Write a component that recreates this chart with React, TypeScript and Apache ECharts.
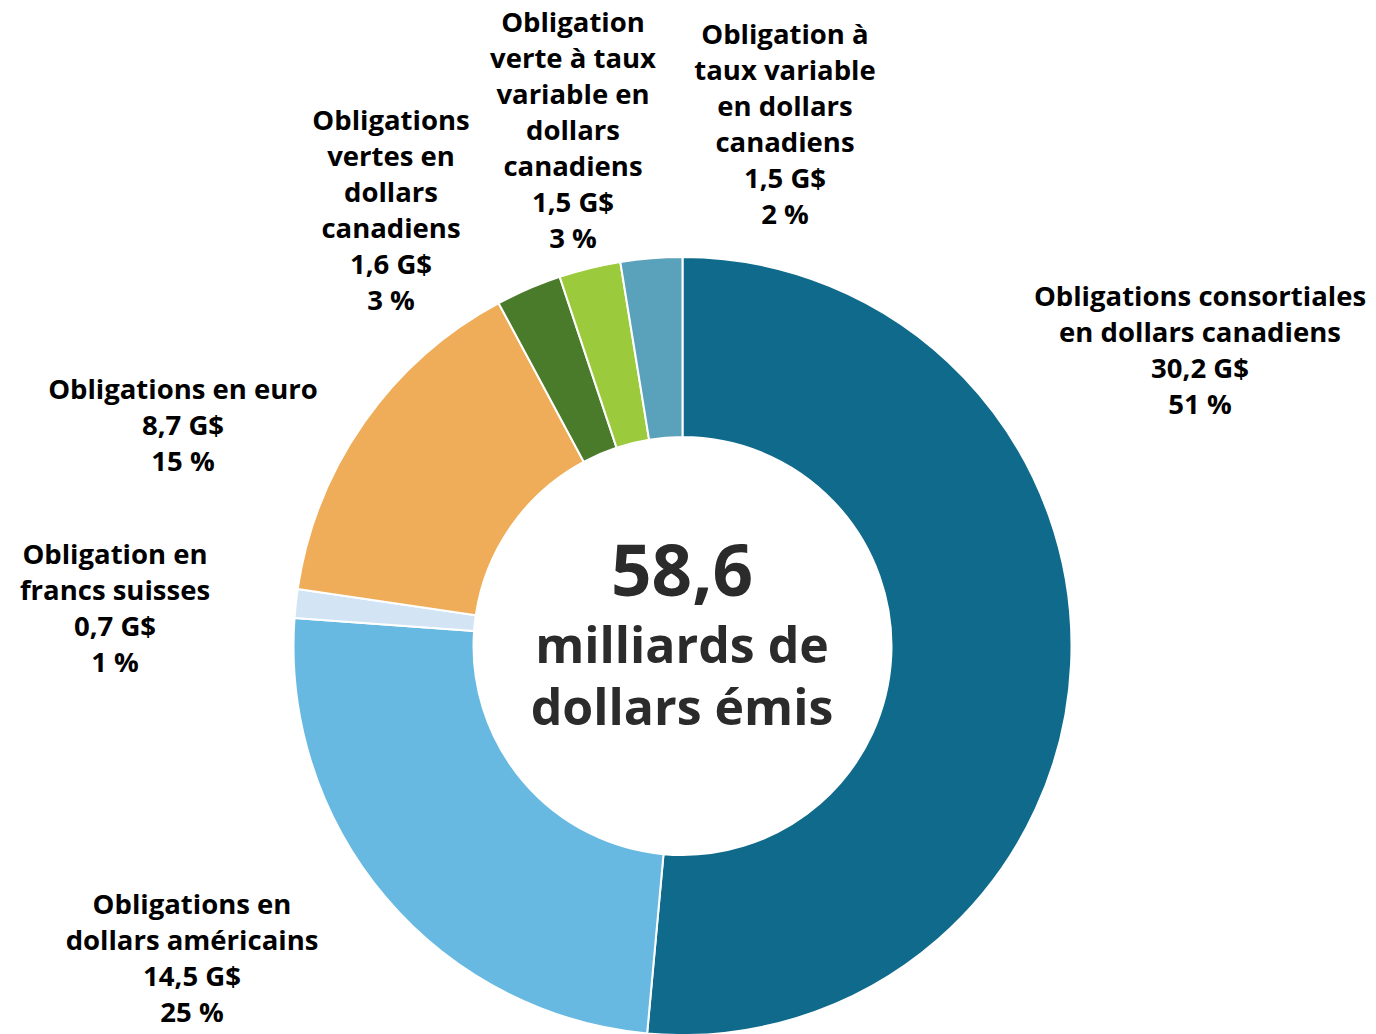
import React, { useEffect, useRef } from "react";
import * as echarts from "echarts";

const categories = [
  "Obligations consortiales\nen dollars canadiens",
  "Obligations en\ndollars américains",
  "Obligation en\nfrancs suisses",
  "Obligations en euro",
  "Obligations\nvertes en\ndollars\ncanadiens",
  "Obligation\nverte à taux\nvariable en\ndollars\ncanadiens",
  "Obligation à\ntaux variable\nen dollars\ncanadiens",
];
const valuesGS = [30.2, 14.5, 0.7, 8.7, 1.6, 1.5, 1.5];
const percentLabels = ["51 %", "25 %", "1 %", "15 %", "3 %", "3 %", "2 %"];
const colors = ["#0f6a8b", "#68b9e1", "#d3e4f5", "#efad59", "#4a7b2a", "#9bcb3c", "#5aa1bb"];
const totalLabel = "58,6";
const centerLines = ["milliards de", "dollars émis"];

// label block centres (layout, not data)
const labelPos = [
  [1200, 349],
  [192, 957],
  [115, 607],
  [183, 424],
  [391, 209],
  [573, 129],
  [785, 123],
];

const FONT = "'Open Sans'";

export default function App() {
  const ref = useRef<HTMLDivElement>(null);
  useEffect(() => {
    const chart = echarts.init(ref.current!, null, { renderer: "svg" });
    const fmt = (v: number) => v.toFixed(1).replace(".", ",");
    chart.setOption({
      animation: false,
      backgroundColor: "#ffffff",
      graphic: [
        {
          type: "text",
          x: 682,
          y: 568,
          style: {
            text: totalLabel,
            fill: "#2b2b2b",
            font: `bold 71px ${FONT}`,
            align: "center",
            verticalAlign: "middle",
          },
        },
        {
          type: "text",
          x: 682,
          y: 644,
          style: {
            text: centerLines[0],
            fill: "#2b2b2b",
            font: `bold 50px ${FONT}`,
            align: "center",
            verticalAlign: "middle",
          },
        },
        {
          type: "text",
          x: 682,
          y: 706,
          style: {
            text: centerLines[1],
            fill: "#2b2b2b",
            font: `bold 50px ${FONT}`,
            align: "center",
            verticalAlign: "middle",
          },
        },
      ],
      series: [
        {
          type: "pie",
          center: [682.5, 646],
          radius: [209, 389],
          startAngle: 90,
          clockwise: true,
          avoidLabelOverlap: false,
          itemStyle: { borderColor: "#ffffff", borderWidth: 2 },
          labelLine: { show: false },
          label: {
            show: true,
            position: "outside",
            color: "#000000",
            fontFamily: FONT,
            fontWeight: "bold",
            fontSize: 27.5,
            lineHeight: 36,
            align: "center",
            formatter: (p: any) =>
              `${p.name}\n${fmt(p.value)} G$\n${percentLabels[p.dataIndex]}`,
          },
          labelLayout: (params: any) => {
            const pos = labelPos[params.dataIndex];
            return { x: pos[0], y: pos[1], align: "center", verticalAlign: "middle" };
          },
          emphasis: { disabled: true },
          data: categories.map((c, i) => ({
            name: c,
            value: valuesGS[i],
            itemStyle: { color: colors[i] },
          })),
        },
      ],
    });
    return () => chart.dispose();
  }, []);
  return (
    <div
      ref={ref}
      style={{ position: "fixed", left: 0, top: 0, width: 1376, height: 1034 }}
    />
  );
}
